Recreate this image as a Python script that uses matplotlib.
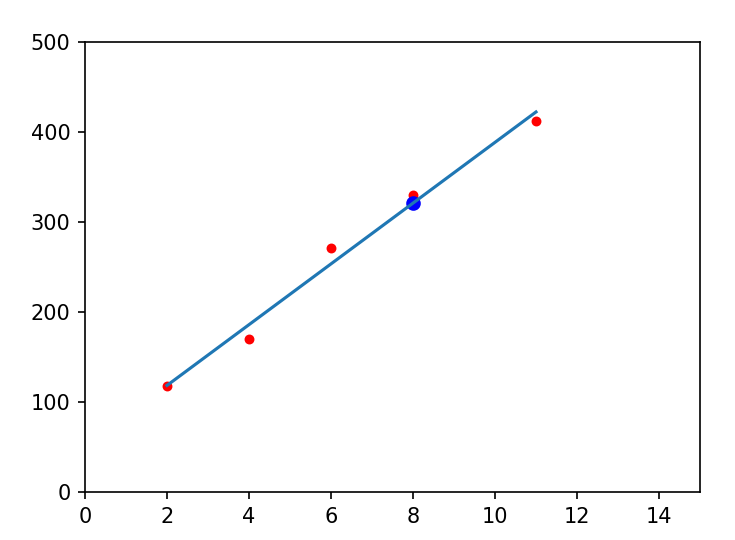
import numpy as np
import matplotlib
matplotlib.use('Agg')
import matplotlib.pyplot as plt

# observed points
x = np.array([2, 4, 6, 8, 11])
y = np.array([118, 170, 271, 330, 412])

# point to predict
x_new = 8

# least squares fit
slope, intercept = np.polyfit(x, y, 1)
y_new = slope * x_new + intercept

fig = plt.figure(figsize=(4.9, 3.6), dpi=150)
ax = fig.add_subplot(111)
fig.subplots_adjust(left=0.1156, right=0.9524, bottom=0.0889, top=0.9222)

ax.scatter(x, y, c='red', s=14)
ax.plot(x, slope * x + intercept)
ax.scatter([x_new], [y_new], c='blue', s=36)

ax.set_xlim(0, 15)
ax.set_ylim(0, 500)

fig.savefig('out.png', dpi=150)
